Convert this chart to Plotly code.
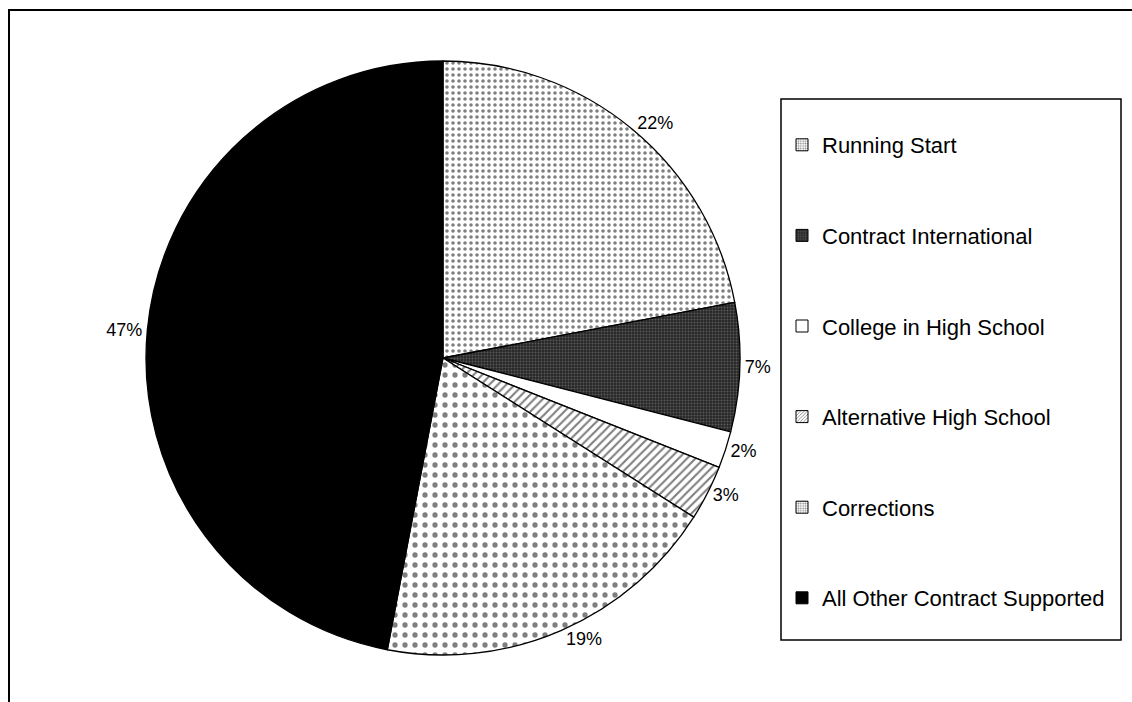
import plotly.graph_objects as go

categories = ["Running Start", "Contract International", "College in High School",
              "Alternative High School", "Corrections", "All Other Contract Supported"]
values = [22, 7, 2, 3, 19, 47]

# slice styles
fill_colors = ["white", "#262626", "white", "white", "white", "black"]
pat_shapes = [".", ".", "", "/", ".", ""]
pat_fg = ["black", "#8c8c8c", "black", "black", "black", "black"]
pat_size = [6, 3, 6, 6, 10, 6]
pat_sol = [0.28, 0.35, 0.3, 0.35, 0.22, 0.3]

W, H = 1132, 702
FONT = "Arial, Liberation Sans, sans-serif"

fig = go.Figure()

cx, cy, r = 443, 358, 297
fig.add_trace(go.Pie(
    labels=categories, values=values, sort=False, direction="clockwise", rotation=0,
    textinfo="percent", texttemplate="%{percent:.0%}", textposition="outside",
    textfont=dict(family=FONT, size=18, color="black"),
    marker=dict(colors=fill_colors, line=dict(color="black", width=1.3),
                pattern=dict(shape=pat_shapes, fgcolor=pat_fg, bgcolor=fill_colors,
                             size=pat_size, solidity=pat_sol, fillmode="overlay")),
    domain=dict(x=[(cx - r) / W, (cx + r) / W], y=[(H - cy - r) / H, (H - cy + r) / H]),
    showlegend=False, hoverinfo="label+percent",
))

# legend entries (one per category, each in its own group for spacing)
for i, name in enumerate(categories):
    fig.add_trace(go.Bar(
        x=[None], y=[None], name=name, legendgroup=name,
        marker=dict(color=fill_colors[i], line=dict(color="black", width=1),
                    pattern=dict(shape=pat_shapes[i], fgcolor=pat_fg[i], bgcolor=fill_colors[i],
                                 size=3, solidity=0.35)),
        showlegend=True,
    ))

fig.update_layout(
    width=W, height=H, margin=dict(l=0, r=0, t=0, b=0),
    paper_bgcolor="white", plot_bgcolor="white",
    xaxis=dict(visible=False), yaxis=dict(visible=False),
    showlegend=True,
    legend=dict(x=782 / W, y=1 - 124 / H, xanchor="left", yanchor="top",
                traceorder="grouped", tracegroupgap=59, bgcolor="rgba(0,0,0,0)",
                font=dict(family=FONT, size=22, color="black"), borderwidth=0),
    shapes=[
        dict(type="rect", xref="paper", yref="paper", x0=9 / W, x1=1.05, y0=-0.05, y1=1 - 10 / H,
             line=dict(color="black", width=2)),
        dict(type="rect", xref="paper", yref="paper", x0=781 / W, x1=1121 / W,
             y0=1 - 640 / H, y1=1 - 99 / H, line=dict(color="black", width=1.5)),
    ],
)

fig.write_html("out.html")
